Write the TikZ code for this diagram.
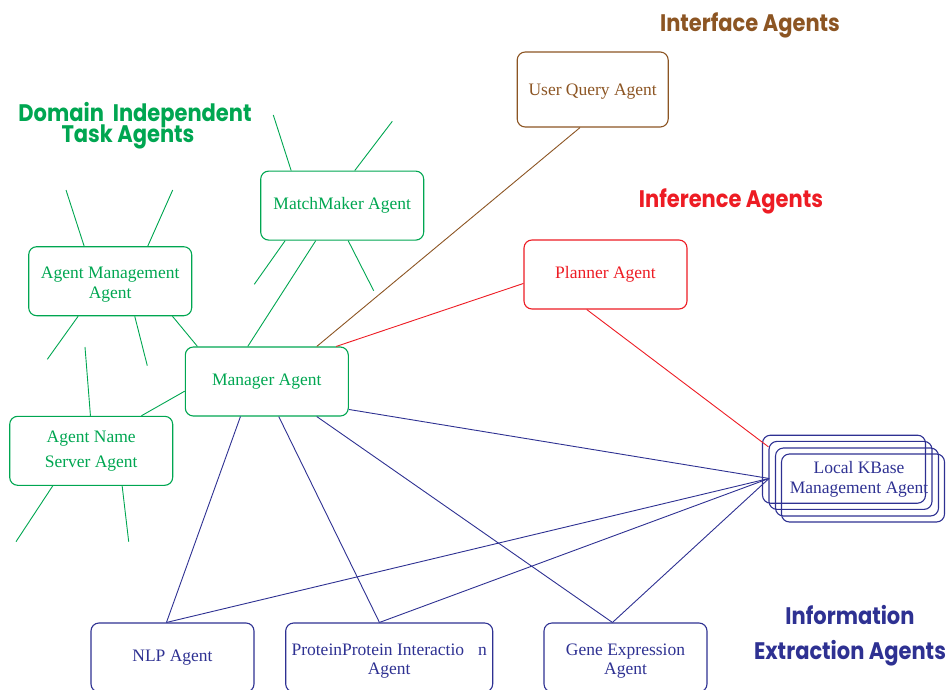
\documentclass[tikz,border=0pt]{standalone}
\usepackage{fontspec}
\setmainfont{Liberation Serif}
\newfontfamily\labfont{Poppins}
\usetikzlibrary{calc}
\definecolor{agreen}{RGB}{0,166,81}
\definecolor{abrown}{RGB}{140,85,35}
\definecolor{ared}{RGB}{237,28,36}
\definecolor{ablue}{RGB}{46,49,146}
\newcommand{\grp}[1]{\scalebox{1}[1.14]{#1}}
\newcommand{\lowered}[2]{\raisebox{#1}[\height][\depth]{#2}}
\newcommand{\twolines}[4]{\raisebox{#1}[\height][\depth]{\begin{tabular}{@{}c@{}}#2\\[#4]#3\end{tabular}}}
\tikzset{
  agentbox/.style={draw, rounded corners=8pt, line width=1.1pt, minimum width=163pt, minimum height=69pt,
    inner sep=0pt, align=center, font=\fontsize{17.5}{21}\selectfont},
  grouplabel/.style={font=\labfont\bfseries\fontsize{21}{21}\selectfont, inner sep=0pt},
  link/.style={line width=0.9pt},
}
\begin{document}
\begin{tikzpicture}[x=1pt,y=-1pt]
\useasboundingbox (0,0) rectangle (947,690);
\clip (0,0) rectangle (947,690);
% group labels
\node[grouplabel, text=abrown] (lint) at (750,25) {\grp{Interface Agents}};
\node[grouplabel, text=ared] (linf) at (731,201) {\grp{Inference Agents}};
\node[grouplabel, text=agreen, align=center] (ldom) at (135,125.5) {\grp{Domain\ \ Independent}\\[-4pt]\grp{Task Agents}\hspace*{14pt}};
\node[grouplabel, text=ablue] (linfo1) at (850,615) {\grp{Information}};
\node[grouplabel, text=ablue] (linfo2) at (850,653) {\grp{Extraction Agents}};
% boxes
\node[agentbox, draw=abrown, text=abrown, minimum width=151pt, minimum height=75pt] (uq) at (592.7,89.5) {\lowered{-2.5pt}{User Query Agent}};
\node[agentbox, draw=ared, text=ared] (pl) at (605.5,274.5) {Planner Agent};
\node[agentbox, draw=agreen, text=agreen] (mm) at (342.2,205.6) {MatchMaker Agent};
\node[agentbox, draw=agreen, text=agreen] (am) at (110.2,281.2) {\twolines{-3pt}{Agent Management}{Agent}{-1pt}};
\node[agentbox, draw=agreen, text=agreen] (mgr) at (266.8,381.5) {Manager Agent};
\node[agentbox, draw=agreen, text=agreen] (ns) at (91.2,450.8) {Agent Name\\[4pt]Server Agent};
\node[agentbox, draw=ablue, text=ablue] (nlp) at (172.5,657.5) {NLP Agent};
\node[agentbox, draw=ablue, text=ablue, minimum width=207pt] (ppi) at (389.2,657.5) {\twolines{-3pt}{ProteinProtein Interactio\hspace{14pt}n}{Agent}{-2pt}};
\node[agentbox, draw=ablue, text=ablue] (ge) at (625.5,657.5) {\twolines{-3pt}{Gene Expression}{Agent}{-2pt}};
% local kbase stack
\node[agentbox, draw=ablue, minimum height=68pt] (kb1) at (844,469.2) {};
\node[agentbox, draw=ablue, minimum height=68pt] (kb2) at (850.5,475.4) {};
\node[agentbox, draw=ablue, minimum height=68pt] (kb3) at (857,482) {};
\node[agentbox, draw=ablue, minimum height=68pt] (kb4) at (863,488) {};
\node[font=\fontsize{17.5}{20}\selectfont, text=ablue, align=center, inner sep=0pt] (kbt) at (859,479) {Local KBase\\Management Agent};
% connection points
\coordinate (kbred) at ($(kb2.north west)+(0,6)$);
\coordinate (kbhub) at ($(kb2.north west)+(0.6,37.6)$);
\coordinate (nlpT) at ($(nlp.north west)+(76,0)$);
\coordinate (ppiT) at ($(ppi.north west)+(94.3,0)$);
\coordinate (geT) at ($(ge.north west)+(69,0)$);
% green stubs
\draw[link, agreen] ($(mm.north west)+(31,0)$) -- (273.3,115);
\draw[link, agreen] ($(mm.north west)+(94.6,0)$) -- (392.3,121.3);
\draw[link, agreen] ($(mm.south west)+(25,0)$) -- (254.3,284.3);
\draw[link, agreen] ($(mm.south west)+(88,0)$) -- (373.7,290.7);
\draw[link, agreen] ($(am.north west)+(56,0)$) -- (66,190);
\draw[link, agreen] ($(am.north west)+(119.6,0)$) -- (172.7,190);
\draw[link, agreen] ($(am.south west)+(50,0)$) -- (47.3,359.3);
\draw[link, agreen] ($(am.south west)+(106.6,0)$) -- (147.3,365.7);
\draw[link, agreen] ($(ns.north west)+(81.3,0)$) -- (85,347);
\draw[link, agreen] ($(ns.south west)+(43.6,0)$) -- (16,541.7);
\draw[link, agreen] ($(ns.south west)+(113,0)$) -- (128.7,541.7);
% green links to manager
\draw[link, agreen] ($(mm.south west)+(55.6,0)$) -- ($(mgr.north west)+(63,0)$);
\draw[link, agreen] ($(am.south west)+(144.3,0)$) -- ($(mgr.north west)+(12.7,0)$);
\draw[link, agreen] ($(ns.north west)+(132.3,0)$) -- ($(mgr.north west)+(0,44.7)$);
% manager to interface / inference
\draw[link, abrown] ($(mgr.north west)+(132,0)$) -- ($(uq.south west)+(63.4,0)$);
\draw[link, ared] ($(mgr.north west)+(151.4,0)$) -- ($(pl.north west)+(0,44)$);
\draw[link, ared] ($(pl.south west)+(63.3,0)$) -- (kbred);
% blue links
\draw[link, ablue] ($(mgr.north east)+(0,63)$) -- (kbhub);
\draw[link, ablue] ($(mgr.south west)+(55.7,0)$) -- (nlpT);
\draw[link, ablue] ($(mgr.south west)+(94,0)$) -- (ppiT);
\draw[link, ablue] ($(mgr.south west)+(132,0)$) -- (geT);
\draw[link, ablue] (kbhub) -- (nlpT);
\draw[link, ablue] (kbhub) -- (ppiT);
\draw[link, ablue] (kbhub) -- (geT);
\end{tikzpicture}
\end{document}
